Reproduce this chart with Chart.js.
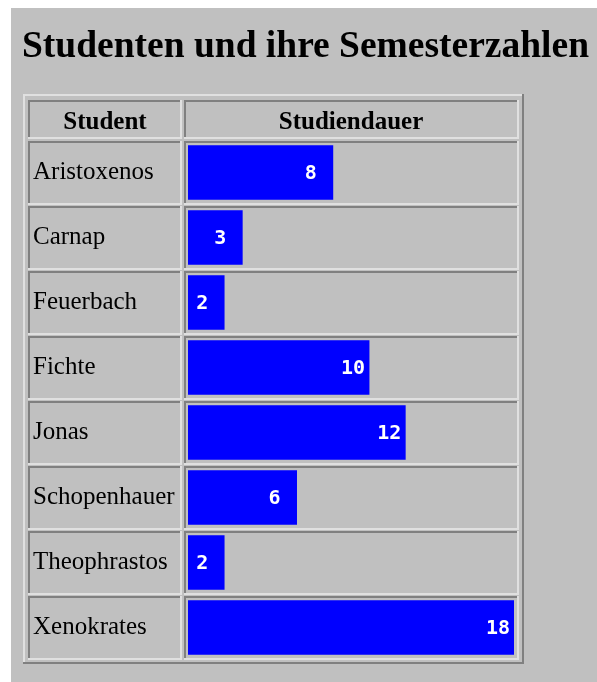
<!DOCTYPE html>
<html>
<head>
<meta charset="utf-8">
<script src="https://cdn.jsdelivr.net/npm/chart.js@4"></script>
<style>
  html, body { margin: 0; padding: 0; background: #ffffff; }
  #wrap { width: 597px; height: 682px; position: relative; }
</style>
</head>
<body>
<div id="wrap"><canvas id="plot"></canvas></div>
<script>
// chart data
const titleText = 'Studenten und ihre Semesterzahlen';
const headers = ['Student', 'Studiendauer'];
const students = ['Aristoxenos', 'Carnap', 'Feuerbach', 'Fichte', 'Jonas', 'Schopenhauer', 'Theophrastos', 'Xenokrates'];
const semesters = [8, 3, 2, 10, 12, 6, 2, 18];

const GRAY = '#c0c0c0';
const DARK = '#808080';
const LIGHT = '#e0e0e0';

/* draws a 2px 3D frame, sunken = dark top/left */
const frame = (ctx, x1, y1, x2, y2, sunken) => {
    const tl = sunken ? DARK : LIGHT;
    const br = sunken ? LIGHT : DARK;
    ctx.fillStyle = tl;
    ctx.fillRect(x1, y1, x2 - x1, 2);
    ctx.fillRect(x1, y1, 2, y2 - y1);
    ctx.fillStyle = br;
    ctx.fillRect(x1, y2 - 2, x2 - x1, 2);
    ctx.fillRect(x2 - 2, y1, 2, y2 - y1);
};

// page background, title and table frames
const tablePlugin = {
    id: 'table',
    beforeDraw: (chart) => {
        const ctx = chart.ctx;
        const area = chart.chartArea;
        const rowH = (area.bottom - area.top) / students.length;
        ctx.save();
        ctx.fillStyle = '#ffffff';
        ctx.fillRect(0, 0, chart.width, chart.height);
        ctx.fillStyle = GRAY;
        ctx.fillRect(11, 8, chart.width - 11, chart.height - 8);

        ctx.fillStyle = '#000000';
        ctx.font = 'bold 37.5px "Liberation Serif", serif';
        ctx.textBaseline = 'alphabetic';
        ctx.textAlign = 'left';
        ctx.fillText(titleText, 22, 57);

        // outer table border (raised)
        frame(ctx, 23, 94, 524, 664, false);
        // header cells
        frame(ctx, 28, 100, 182, 139, true);
        frame(ctx, 184, 100, 519, 139, true);
        ctx.fillStyle = '#000000';
        ctx.font = 'bold 25px "Liberation Serif", serif';
        ctx.textAlign = 'center';
        ctx.fillText(headers[0], 105, 129);
        ctx.fillText(headers[1], 351, 129);
        // body cells
        for (let i = 0; i < students.length; i++) {
            const top = area.top + i * rowH + 1;
            frame(ctx, 28, top, 182, top + rowH - 1, true);
            frame(ctx, 184, top, 519, top + rowH - 1, true);
        }
        ctx.restore();
    },
    afterDatasetsDraw: (chart) => {
        const ctx = chart.ctx;
        const meta = chart.getDatasetMeta(0);
        ctx.save();
        ctx.fillStyle = '#ffffff';
        ctx.font = 'bold 20px "DejaVu Sans Mono", monospace';
        ctx.textAlign = 'right';
        ctx.textBaseline = 'middle';
        meta.data.forEach((bar, i) => {
            const label = String(semesters[i]).padEnd(2, ' ');
            ctx.fillText(label, bar.x - 4, bar.y + 1);
        });
        ctx.restore();
    }
};

const config = {
    type: 'bar',
    data: {
        labels: students,
        datasets: [{
            data: semesters,
            backgroundColor: '#0000ff',
            borderWidth: 0,
            barThickness: 54
        }]
    },
    options: {
        indexAxis: 'y',
        responsive: true,
        maintainAspectRatio: false,
        animation: false,
        layout: { padding: { left: 33, right: 83, top: 140, bottom: 22 } },
        plugins: {
            legend: { display: false },
            tooltip: { enabled: false }
        },
        scales: {
            x: { display: false, min: 0, max: 18 },
            y: {
                grid: { display: false },
                border: { display: false },
                afterFit: (scale) => { scale.width = 155; },
                ticks: {
                    crossAlign: 'far',
                    color: '#000000',
                    font: { family: '"Liberation Serif", serif', size: 25 }
                }
            }
        }
    },
    plugins: [tablePlugin]
};

const myChart = new Chart(document.getElementById('plot'), config);
</script>
</body>
</html>
